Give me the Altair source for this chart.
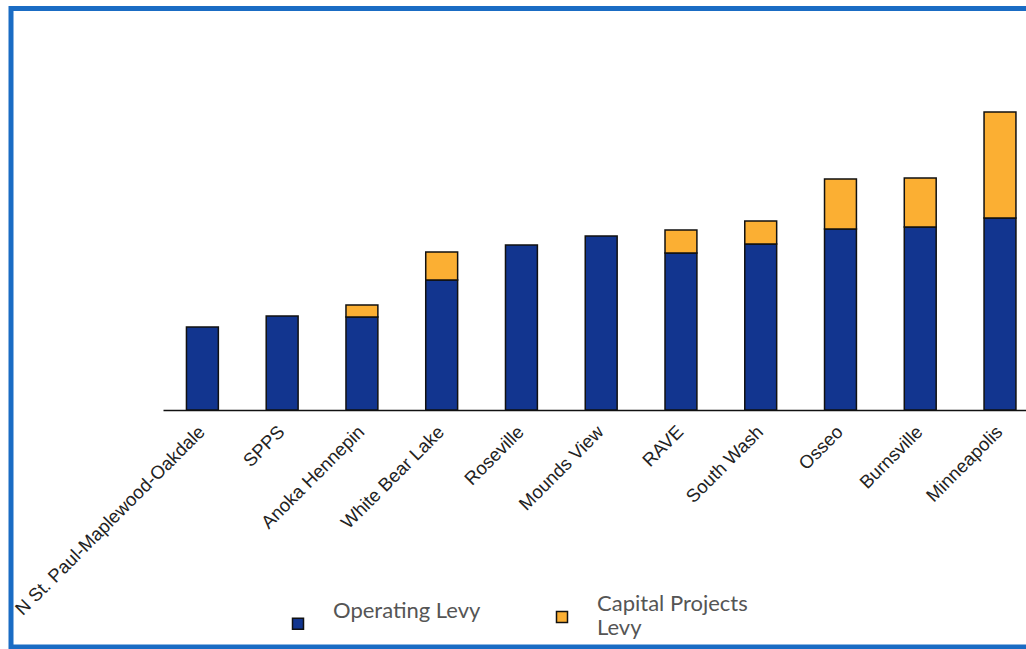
import altair as alt
import pandas as pd

districts = ["N St. Paul-Maplewood-Oakdale", "SPPS", "Anoka Hennepin", "White Bear Lake",
             "Roseville", "Mounds View", "RAVE", "South Wash", "Osseo", "Burnsville", "Minneapolis"]
operating = [83, 94, 93, 130, 165, 174, 157, 166, 181, 183, 192]
capital = [0, 0, 12, 28, 0, 0, 23, 23, 50, 49, 106]
series = ["Operating Levy", "Capital Projects Levy"]
colors = ["#12358F", "#FBAF33"]

rows = []
for d, o, c in zip(districts, operating, capital):
    rows.append({"district": d, "levy": series[0], "value": o, "order": 0})
    if c > 0:
        rows.append({"district": d, "levy": series[1], "value": c, "order": 1})
df = pd.DataFrame(rows)

label_expr = ("datum.label == 'Capital Projects Levy' ? "
              "['Capital Projects', 'Levy'] : datum.label")

bars = alt.Chart(df).mark_bar(stroke="#111111", strokeWidth=1.5).encode(
    x=alt.X("district:N", sort=districts, title=None,
            scale=alt.Scale(paddingInner=0.6, paddingOuter=0.21, align=0.7),
            axis=alt.Axis(labelAngle=-45, labelFont="Liberation Sans", labelFontSize=18.5,
                          labelColor="#222222", ticks=False, domainColor="#111111",
                          domainWidth=1.5, labelPadding=12, labelOffset=-7, labelLimit=400,
                          labelAlign="right", labelBaseline="top")),
    y=alt.Y("value:Q", stack="zero", scale=alt.Scale(domain=[0, 400]), axis=None),
    color=alt.Color("levy:N", scale=alt.Scale(domain=series, range=colors),
                    legend=alt.Legend(orient="none", legendX=124, legendY=596,
                                      direction="horizontal", title=None,
                                      labelFont="Lato", labelFontSize=22, labelColor="#555555",
                                      symbolType="square", symbolSize=121,
                                      symbolStrokeColor="#111111", symbolStrokeWidth=1.5,
                                      symbolOpacity=1, labelOffset=24, columnPadding=70,
                                      labelLimit=500, labelBaseline="line-bottom",
                                      labelExpr=label_expr)),
    order=alt.Order("order:Q"),
)

frame = alt.Chart(pd.DataFrame({"f": [0]})).mark_rect(
    fillOpacity=0, stroke="#1A6CC4", strokeWidth=5
).encode(
    x=alt.value(-152), x2=alt.value(880), y=alt.value(-1.5), y2=alt.value(637)
)

chart = alt.layer(bars, frame).properties(
    width=863, height=400,
    autosize=alt.AutoSizeParams(type="none"),
    padding={"left": 163, "top": 10, "right": 0, "bottom": 239},
    background="white",
).configure_view(stroke=None)

chart.save("out.html", embed_options={"renderer": "svg", "actions": False})
